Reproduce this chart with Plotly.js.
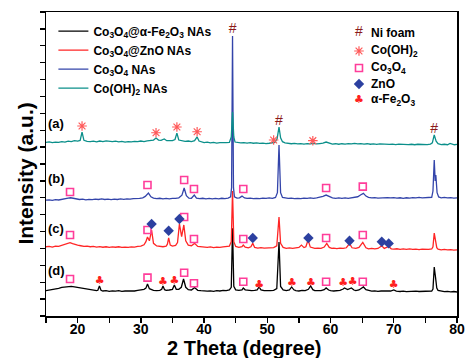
<!DOCTYPE html>
<html><head><meta charset="utf-8">
<script src="https://cdn.plot.ly/plotly-3.0.1.min.js"></script>
<style>html,body{margin:0;padding:0;background:#fff;}#chart{width:465px;height:358px;}</style>
</head><body><div id="chart"></div>
<script>
// ---- data (2θ, intensity in stacked arbitrary units) ----
const seriesNames = [
  'Co<sub>3</sub>O<sub>4</sub>@α-Fe<sub>2</sub>O<sub>3</sub> NAs',
  'Co<sub>3</sub>O<sub>4</sub>@ZnO NAs',
  'Co<sub>3</sub>O<sub>4</sub> NAs',
  'Co(OH)<sub>2</sub> NAs'
];
const blackPts = [[15,1.50],[15.5,1.53],[16,1.55],[16.5,1.60],[17,1.64],[17.5,1.69],[18,1.72],[18.5,1.76],[19,1.75],[19.5,1.73],[20,1.70],[20.5,1.66],[21,1.61],[21.5,1.58],[22,1.54],[22.5,1.52],[23,1.50],[23.2,1.52],[23.45,1.78],[23.7,1.52],[24,1.48],[24.5,1.50],[25,1.46],[25.5,1.49],[26,1.47],[26.5,1.50],[27,1.46],[27.5,1.48],[28,1.47],[28.5,1.50],[29,1.48],[29.5,1.52],[30,1.53],[30.5,1.58],[30.8,1.65],[31.05,1.89],[31.35,1.62],[31.7,1.56],[32,1.52],[32.5,1.50],[33,1.52],[33.3,1.58],[33.5,1.78],[33.75,1.56],[34,1.52],[34.5,1.54],[35,1.58],[35.3,1.83],[35.6,1.58],[36,1.58],[36.4,1.70],[36.75,2.19],[37.1,1.70],[37.5,1.56],[38,1.54],[38.5,1.68],[39,1.52],[39.5,1.50],[40,1.48],[40.5,1.47],[41,1.49],[41.5,1.46],[42,1.50],[42.5,1.48],[43,1.52],[43.5,1.50],[44,1.55],[44.3,1.70],[44.5,5.2],[44.7,1.75],[45,1.55],[45.5,1.52],[46,1.55],[46.2,1.66],[46.5,1.55],[47,1.52],[47.5,1.50],[48,1.52],[48.4,1.55],[48.7,1.72],[49,1.55],[49.5,1.50],[50,1.48],[50.5,1.50],[51,1.52],[51.5,1.62],[51.85,4.38],[52.1,1.75],[52.5,1.55],[53,1.50],[53.5,1.55],[53.85,1.72],[54.2,1.55],[54.5,1.50],[55,1.48],[55.5,1.52],[56,1.50],[56.5,1.58],[56.85,1.78],[57.2,1.56],[57.5,1.50],[58,1.48],[58.5,1.50],[59,1.56],[59.3,1.66],[59.7,1.54],[60,1.50],[60.5,1.48],[61,1.50],[61.5,1.52],[62,1.60],[62.2,1.66],[62.7,1.56],[63.3,1.66],[63.7,1.54],[64,1.50],[64.5,1.54],[65.2,1.72],[65.6,1.56],[66,1.50],[66.5,1.47],[67,1.49],[67.5,1.46],[68,1.48],[68.5,1.47],[69,1.49],[69.5,1.48],[70,1.54],[70.4,1.47],[71,1.45],[71.5,1.47],[72,1.44],[72.5,1.46],[73,1.44],[73.5,1.47],[74,1.45],[74.5,1.46],[75,1.44],[75.5,1.46],[76,1.48],[76.2,1.6],[76.4,2.9],[76.6,2.3],[76.8,1.65],[77,1.52],[77.5,1.46],[78,1.44],[78.5,1.46],[79,1.43],[79.5,1.45],[80,1.42]];
const redPts = [[15,4.10],[15.5,4.12],[16,4.08],[16.5,4.14],[17,4.12],[17.5,4.18],[18,4.22],[18.5,4.30],[18.8,4.34],[19.2,4.28],[19.6,4.22],[20,4.20],[20.5,4.16],[21,4.12],[21.5,4.14],[22,4.10],[22.5,4.12],[23,4.08],[23.5,4.11],[24,4.07],[24.5,4.10],[25,4.06],[25.5,4.09],[26,4.07],[26.5,4.10],[27,4.06],[27.5,4.08],[28,4.06],[28.5,4.09],[29,4.08],[29.5,4.12],[30,4.14],[30.5,4.22],[30.8,4.40],[31.05,4.68],[31.35,4.45],[31.7,5.09],[32.0,4.30],[32.5,4.15],[33,4.12],[33.5,4.10],[34,4.14],[34.2,4.25],[34.4,4.62],[34.65,4.20],[35,4.14],[35.5,4.18],[35.8,4.35],[36.1,5.45],[36.45,4.70],[36.8,5.39],[37.1,4.45],[37.5,4.20],[38,4.16],[38.5,4.30],[39,4.12],[39.5,4.10],[40,4.08],[40.5,4.06],[41,4.09],[41.5,4.05],[42,4.08],[42.5,4.06],[43,4.09],[43.5,4.10],[44,4.14],[44.3,4.4],[44.5,7.4],[44.7,4.4],[45,4.12],[45.5,4.06],[46,4.10],[46.2,4.20],[46.5,4.08],[47,4.04],[47.4,4.10],[47.7,4.30],[48,4.06],[48.5,4.02],[49,4.05],[49.5,4.02],[50,4.04],[50.5,4.02],[51,4.05],[51.5,4.15],[51.85,5.86],[52.1,4.30],[52.5,4.06],[53,4.00],[53.5,4.03],[54,4.00],[54.5,4.03],[55,4.06],[55.4,4.20],[55.8,4.05],[56.1,4.10],[56.45,4.50],[56.8,4.08],[57.2,4.02],[57.5,4.00],[58,4.02],[58.5,4.00],[59,4.08],[59.4,4.30],[59.8,4.06],[60.2,4.00],[60.5,4.02],[61,3.99],[61.5,4.02],[62,4.00],[62.5,4.04],[63.0,4.28],[63.4,4.04],[64,4.00],[64.5,4.06],[65.1,4.36],[65.6,4.04],[66,3.98],[66.5,4.00],[67,3.97],[67.5,4.00],[68.1,4.16],[68.5,4.00],[69.2,4.12],[69.6,3.98],[70,3.96],[70.5,3.98],[71,3.95],[71.5,3.97],[72,3.94],[72.5,3.97],[73,3.94],[73.5,3.96],[74,3.93],[74.5,3.96],[75,3.94],[75.5,3.95],[76,3.97],[76.2,4.1],[76.4,4.91],[76.6,4.4],[76.8,4.05],[77,3.96],[77.5,3.92],[78,3.94],[78.5,3.91],[79,3.93],[79.5,3.90],[80,3.92]];
const bluePts = [[15,6.86],[15.5,6.88],[16,6.85],[16.5,6.89],[17,6.87],[17.5,6.92],[18,6.94],[18.5,6.98],[18.9,7.00],[19.3,6.96],[19.8,6.92],[20.3,6.90],[20.8,6.92],[21.3,6.88],[21.8,6.91],[22.3,6.89],[22.8,6.92],[23.3,6.90],[23.8,6.93],[24.3,6.90],[24.8,6.92],[25.3,6.89],[25.8,6.92],[26.3,6.90],[26.8,6.93],[27.3,6.91],[27.8,6.94],[28.3,6.92],[28.8,6.95],[29.3,6.94],[29.8,6.97],[30.3,7.00],[30.7,7.08],[31.2,7.28],[31.6,7.06],[32,6.98],[32.5,6.95],[33,6.97],[33.5,6.94],[34,6.96],[34.5,6.94],[35,6.97],[35.5,6.96],[36,7.00],[36.5,7.15],[36.85,7.58],[37.2,7.12],[37.6,6.98],[38,6.97],[38.45,7.16],[38.8,6.98],[39.3,6.95],[39.8,6.97],[40.3,6.94],[40.8,6.96],[41.3,6.93],[41.8,6.96],[42.3,6.94],[42.8,6.97],[43.3,6.95],[43.8,6.98],[44.2,7.05],[44.35,7.6],[44.5,16.58],[44.65,7.6],[44.8,7.05],[45.2,6.98],[45.6,7.00],[46.0,7.10],[46.4,6.99],[46.8,6.96],[47.3,6.98],[47.8,6.95],[48.3,6.97],[48.8,6.95],[49.3,6.98],[49.8,6.96],[50.3,6.99],[50.8,6.97],[51.3,7.02],[51.6,7.3],[51.85,10.12],[52.1,7.3],[52.4,7.02],[52.8,6.98],[53.3,6.96],[53.8,6.98],[54.3,6.95],[54.8,6.97],[55.3,6.95],[55.8,6.98],[56.3,6.96],[56.8,6.99],[57.3,6.97],[57.8,7.00],[58.3,7.02],[58.8,7.08],[59.3,7.16],[59.8,7.06],[60.3,7.00],[60.8,6.97],[61.3,6.99],[61.8,6.96],[62.3,6.99],[62.8,6.97],[63.3,7.00],[63.8,7.02],[64.3,7.06],[64.8,7.18],[65.2,7.26],[65.6,7.10],[66,7.02],[66.5,6.99],[67,7.01],[67.5,6.98],[68,7.00],[68.5,6.98],[69,7.01],[69.5,6.99],[70,7.01],[70.5,6.98],[71,7.00],[71.5,6.97],[72,7.00],[72.5,6.98],[73,7.01],[73.5,6.99],[74,7.02],[74.5,6.99],[75,7.01],[75.5,7.00],[76,7.03],[76.2,7.4],[76.4,9.24],[76.55,8.0],[76.65,8.35],[76.85,7.3],[77.1,7.05],[77.5,7.00],[78,7.02],[78.5,6.99],[79,7.01],[79.5,6.98],[80,7.00]];
const tealPts = [[15,10.28],[15.5,10.31],[16,10.27],[16.5,10.30],[17,10.28],[17.5,10.32],[18,10.30],[18.5,10.35],[19,10.33],[19.5,10.38],[20,10.36],[20.4,10.40],[20.7,10.89],[21.0,10.40],[21.5,10.34],[22,10.32],[22.5,10.35],[23,10.31],[23.5,10.36],[24,10.33],[24.5,10.37],[25,10.34],[25.5,10.32],[26,10.35],[26.5,10.31],[27,10.34],[27.5,10.30],[28,10.33],[28.5,10.31],[29,10.34],[29.5,10.32],[30,10.36],[30.5,10.33],[31,10.37],[31.5,10.38],[32,10.42],[32.4,10.54],[32.8,10.42],[33.2,10.40],[33.7,10.48],[34.1,10.38],[34.6,10.36],[35,10.38],[35.4,10.45],[35.7,10.83],[36.0,10.42],[36.5,10.36],[37,10.34],[37.5,10.36],[38,10.33],[38.5,10.38],[38.9,10.60],[39.2,10.36],[39.6,10.30],[40,10.27],[40.5,10.29],[41,10.25],[41.5,10.28],[42,10.24],[42.5,10.27],[43,10.25],[43.5,10.27],[44,10.28],[44.3,10.6],[44.5,12.08],[44.7,10.6],[44.9,10.30],[45.3,10.27],[45.8,10.25],[46.3,10.27],[46.8,10.24],[47.3,10.26],[47.8,10.23],[48.3,10.25],[48.8,10.22],[49.3,10.24],[49.8,10.21],[50.3,10.23],[50.8,10.26],[51.2,10.28],[51.55,10.5],[51.85,11.19],[52.1,10.55],[52.4,10.32],[52.8,10.25],[53.3,10.22],[53.8,10.20],[54.3,10.22],[54.8,10.19],[55.3,10.21],[55.8,10.18],[56.3,10.21],[56.8,10.19],[57.3,10.22],[57.8,10.19],[58.3,10.21],[58.8,10.23],[59.3,10.30],[59.8,10.22],[60.3,10.18],[60.8,10.20],[61.3,10.17],[61.8,10.20],[62.3,10.18],[62.8,10.21],[63.3,10.19],[63.8,10.22],[64.3,10.19],[64.8,10.21],[65.3,10.18],[65.8,10.20],[66.3,10.17],[66.8,10.19],[67.3,10.16],[67.8,10.19],[68.3,10.17],[68.8,10.19],[69.3,10.16],[69.8,10.18],[70.3,10.15],[70.8,10.18],[71.3,10.16],[71.8,10.18],[72.3,10.15],[72.8,10.17],[73.3,10.14],[73.8,10.17],[74.3,10.15],[74.8,10.17],[75.3,10.15],[75.8,10.18],[76.1,10.25],[76.4,10.72],[76.7,10.35],[77,10.2],[77.5,10.15],[78,10.17],[78.5,10.14],[78.9,10.22],[79.3,10.16],[79.6,10.14],[80,10.16]];

// phase marker positions [2θ, height]
const niFoamPts = [[44.5,16.99],[51.85,11.49],[76.4,11.04]];
const coOH2Pts  = [[20.7,11.25],[32.4,10.85],[35.7,11.19],[38.9,10.91],[51.0,10.42],[57.2,10.38]];
const co3o4Pts  = [[18.8,7.34],[31.05,7.76],[36.85,8.05],[38.4,7.52],[46.2,7.52],[59.3,7.58],[65.1,7.66],
                   [18.8,4.80],[31.05,5.09],[36.85,5.86],[38.4,4.56],[46.2,4.56],[59.3,4.62],[65.1,4.80],
                   [18.8,2.19],[31.05,2.27],[36.85,2.56],[38.4,1.94],[46.2,2.03],[59.3,2.03],[65.1,2.03]];
const znoPts    = [[31.7,5.45],[34.4,5.05],[36.1,5.74],[47.7,4.62],[56.5,4.62],[63.0,4.46],[68.1,4.40],[69.2,4.30]];
const fe2o3Pts  = [[23.5,2.03],[33.5,1.97],[35.3,2.03],[48.7,1.84],[53.9,1.94],[56.9,1.94],[62.0,1.94],[63.5,2.00],[70.0,1.80]];

const sampleLabels = ['(a)','(b)','(c)','(d)'];
const sampleLabelY = [11.37, 8.17, 5.21, 2.72];
const phaseNames = ['Ni foam','Co(OH)<sub>2</sub>','Co<sub>3</sub>O<sub>4</sub>','ZnO','α-Fe<sub>2</sub>O<sub>3</sub>'];
const phaseKeyX = 64.5;
const phaseKeyY = [16.76, 15.69, 14.68, 13.74, 12.79];
const xTicks = [20,30,40,50,60,70,80];

// ---- build ----
const lineColors = ['#000000','#ff2525','#3344aa','#0b8f8a'];
const allPts = [blackPts, redPts, bluePts, tealPts];
const traces = allPts.map((p,i)=>({
  type:'scatter', mode:'lines', name: '<b>' + seriesNames[i] + '</b>',
  x: p.map(d=>d[0]), y: p.map(d=>d[1]),
  line:{color: lineColors[i], width:1.3}, hoverinfo:'skip'
}));

function textTrace(pts, txt, color, size, family){
  return {type:'scatter', mode:'text', showlegend:false, hoverinfo:'skip',
    x: pts.map(d=>d[0]), y: pts.map(d=>d[1]), text: pts.map(()=>txt),
    textposition:'middle center', textfont:{color:color, size:size, family:family}};
}
function markTrace(pts, sym, color, size, lw){
  return {type:'scatter', mode:'markers', showlegend:false, hoverinfo:'skip',
    x: pts.map(d=>d[0]), y: pts.map(d=>d[1]),
    marker:{symbol:sym, size:size, color: color, line:{color:color, width:lw}}};
}
const hashColor = '#8b1a1a', starColor = '#ff5a5a', sqColor = '#ff3d9a', diaColor = '#2c40a0', clubColor = '#ff2020';

traces.push(textTrace(niFoamPts.concat([[phaseKeyX, phaseKeyY[0]]]), '#', hashColor, 14, 'Liberation Sans'));
traces.push(markTrace(coOH2Pts.concat([[phaseKeyX, phaseKeyY[1]]]), 'asterisk-open', starColor, 8, 1.2));
traces.push(markTrace(co3o4Pts.concat([[phaseKeyX, phaseKeyY[2]]]), 'square-open', sqColor, 7, 1.6));
traces.push(markTrace(znoPts.concat([[phaseKeyX, phaseKeyY[3]]]), 'diamond', diaColor, 8, 0));
traces.push(textTrace(fe2o3Pts.concat([[phaseKeyX, phaseKeyY[4]]]), '♣', clubColor, 11, 'DejaVu Sans'));

const font = 'Liberation Sans, Arial, sans-serif';
const annotations = [];
sampleLabels.forEach((t,i)=>annotations.push({x:16.65, y:sampleLabelY[i], xref:'x', yref:'y', text:'<b>'+t+'</b>', showarrow:false,
  xanchor:'center', yanchor:'middle', font:{family:font, size:13, color:'#000'}}));
phaseNames.forEach((t,i)=>annotations.push({x:phaseKeyX+1.6, y:phaseKeyY[i], xref:'x', yref:'y', text:'<b>'+t+'</b>', showarrow:false,
  xanchor:'left', yanchor:'middle', font:{family:font, size:12, color:'#000'}}));
annotations.push({x:-0.05, y:0.47, xref:'paper', yref:'paper', text:'<b>Intensity (a.u.)</b>', textangle:-90, showarrow:false,
  xanchor:'center', yanchor:'middle', font:{family:font, size:21, color:'#000'}});
annotations.push({x:0.482, y:-0.104, xref:'paper', yref:'paper', text:'<b>2 Theta (degree)</b>', showarrow:false,
  xanchor:'center', yanchor:'middle', font:{family:font, size:20, color:'#000'}});

const layout = {
  width:465, height:358,
  margin:{l:46, r:8, t:12, b:42},
  paper_bgcolor:'#fff', plot_bgcolor:'#fff',
  showlegend:true,
  legend:{x:0.018, y:0.985, xanchor:'left', yanchor:'top', bgcolor:'rgba(0,0,0,0)',
    font:{family:font, size:12, color:'#000'}, tracegroupgap:0},
  xaxis:{range:[15,80], tickvals:xTicks, ticktext:xTicks.map(v=>'<b>'+v+'</b>'), ticks:'outside', ticklen:5, tickwidth:1.3, tickcolor:'#000',
    ticklabelstandoff:-5,
    showline:true, linecolor:'#000', linewidth:1.5, mirror:true, showgrid:false, zeroline:false,
    tickfont:{family:font, size:14, color:'#000'},
    minor:{tickvals:[15,25,35,45,55,65,75], ticks:'outside', ticklen:5, tickwidth:1.3, tickcolor:'#000', showgrid:false}},
  yaxis:{range:[0,18], dtick:1, tick0:0, ticks:'outside', ticklen:5, tickwidth:1.3, tickcolor:'#000', showticklabels:false,
    showline:true, linecolor:'#000', linewidth:1.5, mirror:true, showgrid:false, zeroline:false},
  annotations: annotations
};
Plotly.newPlot('chart', traces, layout, {displayModeBar:false, staticPlot:true});
</script></body></html>
